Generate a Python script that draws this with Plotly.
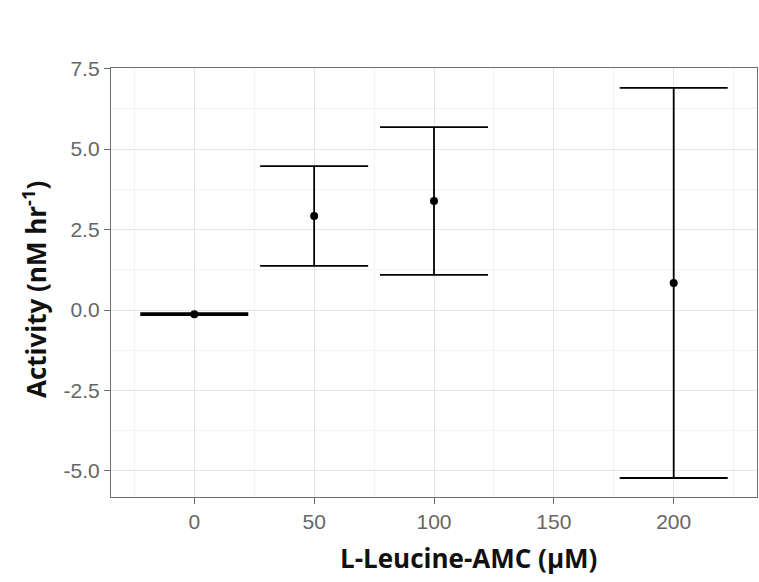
import plotly.graph_objects as go

conc = [0, 50, 100, 200]
activity = [-0.13, 2.92, 3.39, 0.84]
upper = [-0.10, 4.47, 5.68, 6.90]
lower = [-0.16, 1.37, 1.09, -5.22]
y_ticks = [-5.0, -2.5, 0.0, 2.5, 5.0, 7.5]
x_ticks = [0, 50, 100, 150, 200]

err_plus = [u - a for u, a in zip(upper, activity)]
err_minus = [a - l for a, l in zip(activity, lower)]

fig = go.Figure()
fig.add_trace(go.Scatter(
    x=conc, y=activity, mode="markers",
    marker=dict(color="black", size=8),
    error_y=dict(type="data", symmetric=False, array=err_plus, arrayminus=err_minus,
                 color="black", thickness=1.8, width=54),
    showlegend=False,
))

axis_common = dict(
    showline=True, linecolor="#6e6e6e", linewidth=1.3, mirror=True,
    ticks="outside", ticklen=6, tickcolor="#6e6e6e", tickwidth=1.3,
    tickfont=dict(family="Liberation Sans, Arial", size=21, color="#666666"),
    showgrid=True, gridcolor="#e6e6e6", gridwidth=1.2,
    zeroline=False,
)

fig.update_xaxes(
    range=[-34.75, 234.75], tickvals=x_ticks, ticktext=[str(v) for v in x_ticks],
    minor=dict(dtick=25, tick0=25, showgrid=True, gridcolor="#f3f3f3", gridwidth=1, ticks=""),
    **axis_common,
)
fig.update_yaxes(
    range=[-5.81, 7.52], tickvals=y_ticks, ticktext=[f"{v:.1f}" for v in y_ticks],
    minor=dict(dtick=1.25, tick0=1.25, showgrid=True, gridcolor="#f3f3f3", gridwidth=1, ticks=""),
    **axis_common,
)

title_font = dict(family="Open Sans, Liberation Sans", size=26, color="#111111")
fig.add_annotation(
    text="<b>L-Leucine-AMC (µM)</b>", xref="paper", yref="paper",
    x=0.554, y=-0.142, xanchor="center", yanchor="middle",
    showarrow=False, font=title_font,
)
fig.add_annotation(
    text="<b>Activity (nM hr<sup>-1</sup>)</b>", xref="paper", yref="paper",
    x=-0.1176, y=0.4825, xanchor="center", yanchor="middle", textangle=-90,
    showarrow=False, font=title_font,
)

fig.update_layout(
    width=759, height=582,
    margin=dict(l=111, r=2, t=68, b=85),
    plot_bgcolor="white", paper_bgcolor="white",
)

fig.write_html("out.html")
